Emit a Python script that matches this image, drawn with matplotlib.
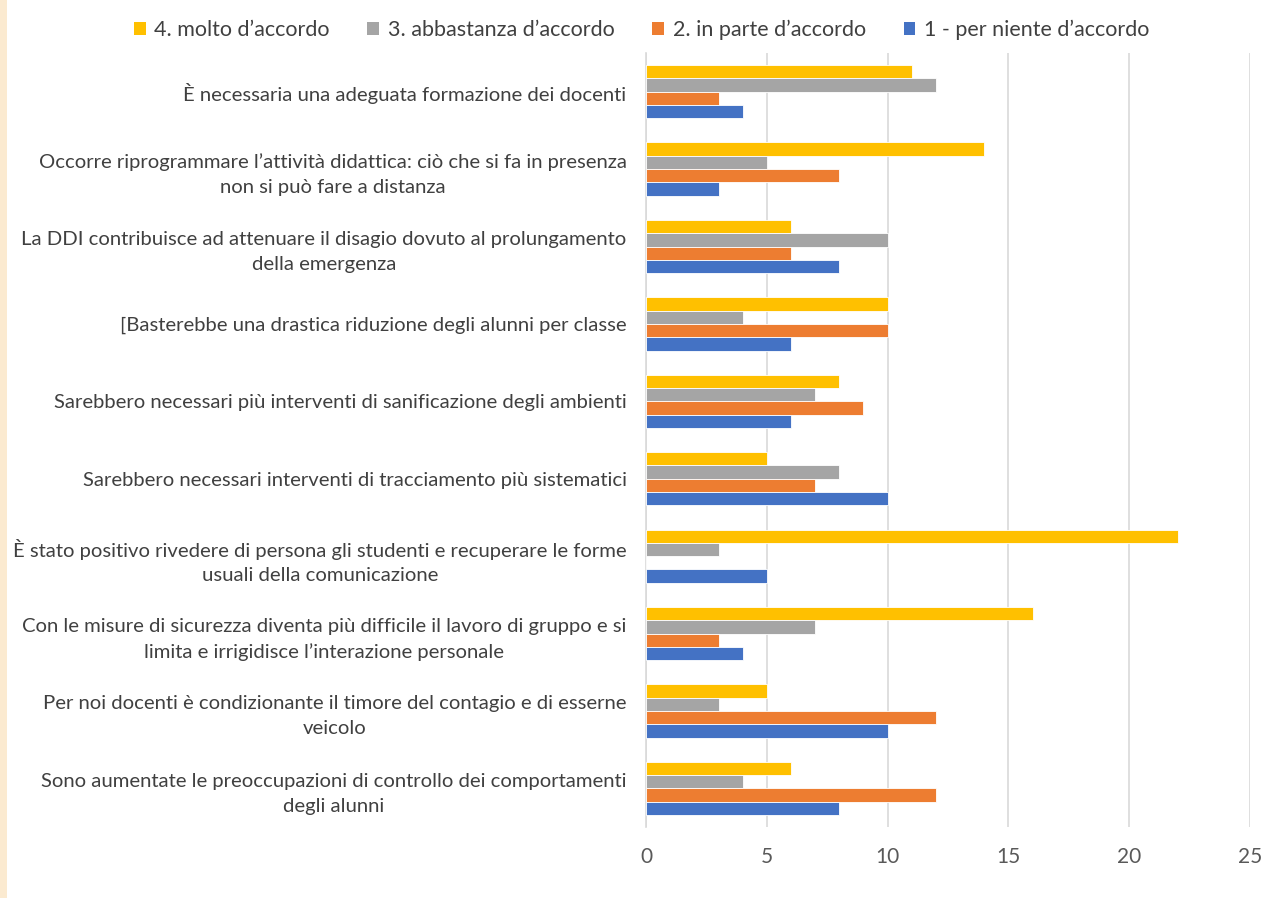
import matplotlib
matplotlib.use("Agg")
import matplotlib.pyplot as plt
import numpy as np
from matplotlib.patches import Rectangle, Patch

plt.rcParams['font.family'] = ['Lato', 'DejaVu Sans']

categories = [
    "È necessaria una adeguata formazione dei docenti",
    "Occorre riprogrammare l’attività didattica: ciò che si fa in presenza\nnon si può fare a distanza",
    "La DDI contribuisce ad attenuare il disagio dovuto al prolungamento\ndella emergenza",
    "[Basterebbe una drastica riduzione degli alunni per classe",
    "Sarebbero necessari più interventi di sanificazione degli ambienti",
    "Sarebbero necessari interventi di tracciamento più sistematici",
    "È stato positivo rivedere di persona gli studenti e recuperare le forme\nusuali della comunicazione",
    "Con le misure di sicurezza diventa più difficile il lavoro di gruppo e si\nlimita e irrigidisce l’interazione personale",
    "Per noi docenti è condizionante il timore del contagio e di esserne\nveicolo",
    "Sono aumentate le preoccupazioni di controllo dei comportamenti\ndegli alunni",
]
molto = [11, 14, 6, 10, 8, 5, 22, 16, 5, 6]
abbastanza = [12, 5, 10, 4, 7, 8, 3, 7, 3, 4]
in_parte = [3, 8, 6, 10, 9, 7, 0, 3, 12, 12]
per_niente = [4, 3, 8, 6, 6, 10, 5, 4, 10, 8]

series_names = ["4. molto d’accordo", "3. abbastanza d’accordo",
                "2. in parte d’accordo", "1 - per niente d’accordo"]
series_vals = [molto, abbastanza, in_parte, per_niente]
colors = ["#FFC000", "#A5A5A5", "#ED7D31", "#4472C4"]
xticks = [0, 5, 10, 15, 20, 25]

fig = plt.figure(figsize=(12.63, 8.98), dpi=100)
fig.patches.append(Rectangle((0, 0), 0.0055, 1, transform=fig.transFigure,
                             facecolor="#FBEAD0", edgecolor="none", zorder=0))
ax = fig.add_axes([0.5115, 0.079, 0.4782, 0.862])

y = np.arange(len(categories))
h = 0.172
offsets = [-1.5 * h, -0.5 * h, 0.5 * h, 1.5 * h]
for vals, off, c in zip(series_vals, offsets, colors):
    ax.barh(y + off, vals, height=h, color=c, edgecolor="white", linewidth=0.6, zorder=3)

ax.set_ylim(len(categories) - 0.5, -0.5)
ax.set_xlim(0, 25)
ax.set_xticks(xticks)
ax.set_xticklabels([str(t) for t in xticks])
ax.set_yticks(y)
ax.set_yticklabels(categories, multialignment='center', linespacing=1.55)
ax.tick_params(axis='y', length=0, pad=14, labelsize=14.6, labelcolor="#404040")
ax.tick_params(axis='x', length=0, pad=14, labelsize=15, labelcolor="#595959")
ax.grid(axis='x', color="#D9D9D9", linewidth=1.2, zorder=0)
for s in ['top', 'right', 'bottom']:
    ax.spines[s].set_visible(False)
ax.spines['left'].set_color("#D9D9D9")
ax.spines['left'].set_linewidth(1.2)

handles = [Patch(facecolor=c, edgecolor='none') for c in colors]
fig.legend(handles, series_names, loc='upper center', bbox_to_anchor=(0.508, 1.0),
           ncol=4, frameon=False, fontsize=15.5, handlelength=0.55, handleheight=0.55,
           handletextpad=0.4, columnspacing=1.75, labelcolor="#404040")

fig.savefig("out.png", dpi=100, facecolor="white")
